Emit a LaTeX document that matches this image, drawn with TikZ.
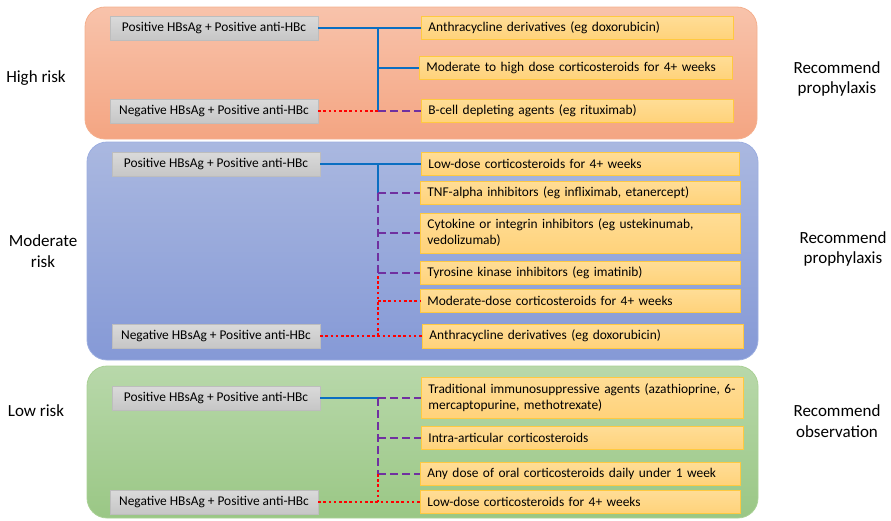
\documentclass[tikz,border=0pt]{standalone}
\usepackage{fontspec}
\setmainfont{Carlito}
\usepackage{tikz}
\usetikzlibrary{positioning}

\definecolor{lineblue}{HTML}{0A6EC2}
\definecolor{linepurple}{HTML}{7030A0}
\definecolor{linered}{HTML}{FF0000}
\definecolor{testtop}{HTML}{DADADA}
\definecolor{testbot}{HTML}{C6C6C6}
\definecolor{testborder}{HTML}{BDBDBD}
\definecolor{drugtop}{HTML}{FFDD96}
\definecolor{drugbot}{HTML}{FFD27A}
\definecolor{drugborder}{HTML}{FFC940}
\definecolor{hightop}{HTML}{F8C3AB}
\definecolor{highbot}{HTML}{F4A582}
\definecolor{highborder}{HTML}{F4B08E}
\definecolor{modtop}{HTML}{AAB8E0}
\definecolor{modbot}{HTML}{8599D6}
\definecolor{modborder}{HTML}{9CAEE0}
\definecolor{lowtop}{HTML}{B8D8AA}
\definecolor{lowbot}{HTML}{9AC785}
\definecolor{lowborder}{HTML}{AAD196}

\begin{document}
\begin{tikzpicture}[
    x=1pt, y=-1pt,
    every node/.style={font=\fontsize{13.4}{16}\selectfont},
    panel/.style={rounded corners=20pt, line width=0.8pt},
    test/.style={draw=testborder, top color=testtop, bottom color=testbot, minimum width=208pt, minimum height=24pt, inner sep=0pt},
    drug/.style={draw=drugborder, line width=0.8pt, top color=drugtop, bottom color=drugbot, anchor=west, minimum height=23pt, inner xsep=7pt, inner ysep=0pt, align=left, text width=#1},
    side/.style={font=\fontsize{17}{20.5}\selectfont, align=center},
    blueline/.style={lineblue, line width=2.6pt},
    purpleline/.style={linepurple, line width=2.6pt, dash pattern=on 8pt off 4pt},
    redline/.style={linered, line width=2.6pt, dash pattern=on 2.6pt off 2.6pt}
]
    \useasboundingbox (0,0) rectangle (891,520);

    \shadedraw[panel, draw=highborder, top color=hightop, bottom color=highbot] (85,7) rectangle (757,139);
    \shadedraw[panel, draw=modborder, top color=modtop, bottom color=modbot] (87,142) rectangle (758,360);
    \shadedraw[panel, draw=lowborder, top color=lowtop, bottom color=lowbot] (87,366) rectangle (758,518);

    \node (highrisk) [side] at (36,78) {High risk};
    \node (modrisk) [side] at (43,251) {Moderate\\risk};
    \node (lowrisk) [side] at (36,411) {Low risk};
    \node (highrec) [side] at (837,79) {Recommend\\prophylaxis};
    \node (modrec) [side] at (843,249) {Recommend\\prophylaxis};
    \node (lowrec) [side] at (837,421) {Recommend\\observation};

    \node (hpos) [test] at (214,28) {Positive HBsAg + Positive anti-HBc};
    \node (hneg) [test] at (214,111) {Negative HBsAg + Positive anti-HBc};
    \node (hanth) [drug=298pt] at (421,28) {Anthracycline derivatives (eg doxorubicin)};
    \node (hster) [drug=299pt] at (419,68) {Moderate to high dose corticosteroids for 4+ weeks};
    \node (hbcell) [drug=298pt] at (421,111) {B-cell depleting agents (eg rituximab)};
    \coordinate (hj) at (378,28);

    \draw [blueline] (hpos) -- (hanth);
    \draw [blueline] (hj) -- (hj |- hbcell.west);
    \draw [blueline] (hj |- hster.west) -- (hster);
    \draw [redline] (hneg) -- (hj |- hneg.east);
    \draw [purpleline] (hj |- hbcell.west) -- (hbcell);

    \node (mpos) [test] at (216,164) {Positive HBsAg + Positive anti-HBc};
    \node (mneg) [test] at (216,336) {Negative HBsAg + Positive anti-HBc};
    \node (mlow) [drug=304pt] at (421,164) {Low-dose corticosteroids for 4+ weeks};
    \node (mtnf) [drug=306pt] at (420,193) {TNF-alpha inhibitors (eg infliximab, etanercept)};
    \node (mcyto) [drug=306pt, minimum height=40pt] at (420,233) {Cytokine or integrin inhibitors (eg ustekinumab,\\vedolizumab)};
    \node (mtyro) [drug=306pt] at (420,273) {Tyrosine kinase inhibitors (eg imatinib)};
    \node (mmod) [drug=306pt] at (420,301) {Moderate-dose corticosteroids for 4+ weeks};
    \node (manth) [drug=307pt, minimum height=24pt] at (422,336) {Anthracycline derivatives (eg doxorubicin)};
    \coordinate (mj) at (378,164);
    \coordinate (mr) at (378,276);

    \draw [blueline] (mpos) -- (mlow);
    \draw [blueline] (mj) -- (mj |- mtnf.west);
    \draw [purpleline] (mj |- mtnf.west) -- (mj |- mtyro.west);
    \draw [purpleline] (mj |- mtnf.west) -- (mtnf);
    \draw [purpleline] (mj |- mcyto.west) -- (mcyto);
    \draw [purpleline] (mj |- mtyro.west) -- (mtyro);
    \draw [redline] (mr) -- (mr |- manth.west);
    \draw [redline] (mr |- mmod.west) -- (mmod);
    \draw [redline] (mneg) -- (manth);

    \node (lpos) [test] at (216,398) {Positive HBsAg + Positive anti-HBc};
    \node (lneg) [test] at (214,502) {Negative HBsAg + Positive anti-HBc};
    \node (ltrad) [drug=308pt, minimum height=41pt] at (421,398) {Traditional immunosuppressive agents (azathioprine, 6-\\mercaptopurine, methotrexate)};
    \node (lintra) [drug=308pt] at (421,438) {Intra-articular corticosteroids};
    \node (lany) [drug=306pt] at (420,474) {Any dose of oral corticosteroids daily under 1 week};
    \node (llow) [drug=306pt] at (420,502) {Low-dose corticosteroids for 4+ weeks};
    \coordinate (lj) at (378,398);

    \draw [blueline] (lpos) -- (lj);
    \draw [purpleline] (lj) -- (ltrad);
    \draw [purpleline] (lj) -- (lj |- lany.west);
    \draw [purpleline] (lj |- lintra.west) -- (lintra);
    \draw [purpleline] (lj |- lany.west) -- (lany);
    \draw [redline] (lj |- lany.west) -- (lj |- llow.west);
    \draw [redline] (lneg) -- (llow);
\end{tikzpicture}
\end{document}
